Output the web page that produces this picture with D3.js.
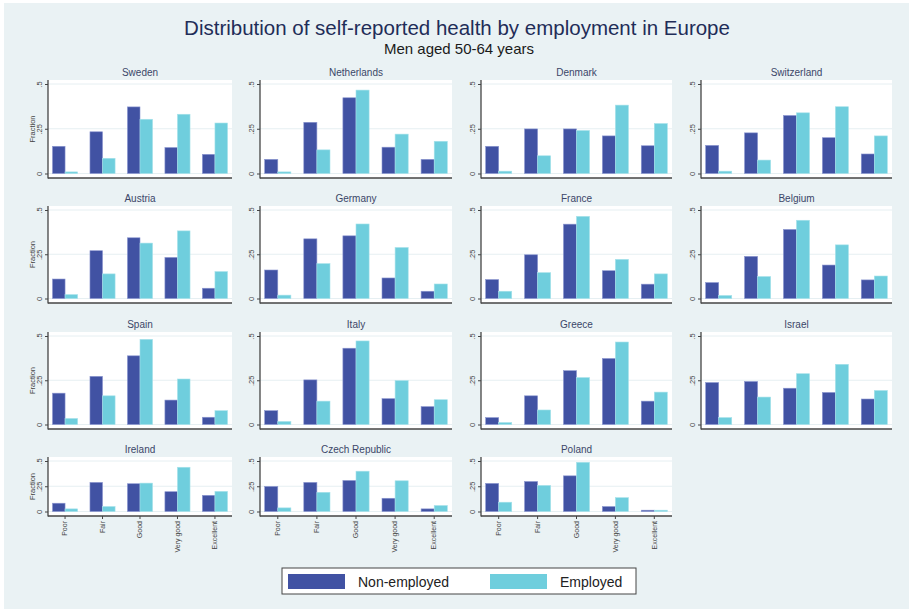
<!DOCTYPE html>
<html>
<head>
  <meta charset="utf-8">
  <title>Self-reported health by employment</title>
  <script src="https://d3js.org/d3.v7.min.js"></script>
  <style>
    html, body { margin: 0; padding: 0; background: #fff; }
    svg { display: block; font-family: "Liberation Sans", Arial, sans-serif; }
  </style>
</head>
<body>
  <svg width="909" height="610"></svg>
  <script>
    // Data (fraction of men in each health category)
    const countries = ["Sweden", "Netherlands", "Denmark", "Switzerland",
      "Austria", "Germany", "France", "Belgium",
      "Spain", "Italy", "Greece", "Israel",
      "Ireland", "Czech Republic", "Poland"];
    const categories = ["Poor", "Fair", "Good", "Very good", "Excellent"];
    const seriesNames = ["Non-employed", "Employed"];

    const nonEmployed = [
      [0.152, 0.233, 0.372, 0.145, 0.107], // Sweden
      [0.079, 0.286, 0.423, 0.147, 0.079], // Netherlands
      [0.152, 0.249, 0.249, 0.210, 0.155], // Denmark
      [0.157, 0.227, 0.324, 0.200, 0.109], // Switzerland
      [0.110, 0.270, 0.343, 0.232, 0.058], // Austria
      [0.161, 0.337, 0.354, 0.116, 0.041], // Germany
      [0.107, 0.247, 0.420, 0.157, 0.081], // France
      [0.090, 0.238, 0.390, 0.189, 0.105], // Belgium
      [0.177, 0.272, 0.388, 0.138, 0.041], // Spain
      [0.078, 0.252, 0.431, 0.146, 0.101], // Italy
      [0.039, 0.162, 0.304, 0.373, 0.132], // Greece
      [0.237, 0.243, 0.205, 0.181, 0.144], // Israel
      [0.082, 0.288, 0.275, 0.196, 0.160], // Ireland
      [0.248, 0.288, 0.307, 0.131, 0.026], // Czech Republic
      [0.278, 0.297, 0.353, 0.049, 0.013]  // Poland
    ];
    const employed = [
      [0.009, 0.085, 0.303, 0.331, 0.282],
      [0.009, 0.132, 0.466, 0.220, 0.180],
      [0.013, 0.099, 0.240, 0.382, 0.279],
      [0.013, 0.075, 0.339, 0.373, 0.210],
      [0.022, 0.139, 0.313, 0.382, 0.152],
      [0.019, 0.197, 0.421, 0.288, 0.082],
      [0.041, 0.146, 0.464, 0.221, 0.139],
      [0.017, 0.124, 0.442, 0.303, 0.127],
      [0.034, 0.162, 0.481, 0.257, 0.078],
      [0.017, 0.132, 0.472, 0.248, 0.140],
      [0.011, 0.082, 0.265, 0.466, 0.183],
      [0.039, 0.155, 0.287, 0.340, 0.192],
      [0.026, 0.049, 0.281, 0.438, 0.199],
      [0.036, 0.190, 0.399, 0.304, 0.059],
      [0.092, 0.258, 0.487, 0.137, 0.013]
    ];
    const yTicks = [0, 0.25, 0.5];
    const yTickLabels = ["0", ".25", ".5"];

    const colors = { fill: ["#4152a3", "#6fcedd"], edge: ["#8b96d0", "#a6e2ea"] };

    // Panel layout (Stata-style by() grid)
    const colLeft = [48, 260, 481, 701];
    const colRight = [232, 452, 672, 892];
    const rowTop = [80, 206, 332, 457];
    const rowBottom = [178, 303, 429, 516];
    const nCols = 4;

    const svg = d3.select("svg");

    svg.append("rect")
      .attr("x", 4).attr("y", 3)
      .attr("width", 905).attr("height", 606)
      .attr("fill", "#eaf2f4");

    svg.append("text")
      .attr("x", 457).attr("y", 35)
      .attr("text-anchor", "middle")
      .attr("font-size", 20.5)
      .attr("fill", "#1f2d58")
      .text("Distribution of self-reported health by employment in Europe");

    svg.append("text")
      .attr("x", 459).attr("y", 54)
      .attr("text-anchor", "middle")
      .attr("font-size", 15)
      .attr("fill", "#1a1a1a")
      .text("Men aged 50-64 years");

    countries.forEach((country, i) => {
      const r = Math.floor(i / nCols), c = i % nCols;
      const left = colLeft[c], right = colRight[c];
      const top = rowTop[r], bottom = rowBottom[r];
      const isLastRow = r === rowTop.length - 1;

      const x = d3.scaleBand().domain(categories).range([left, right])
        .paddingInner(0.33).paddingOuter(0.12);
      const xs = d3.scaleBand().domain(seriesNames).range([0, x.bandwidth()]);
      const y = d3.scaleLinear().domain([0, 0.5]).range([bottom - 4.5, top + 4]);

      const g = svg.append("g");

      g.append("rect")
        .attr("x", left).attr("y", top)
        .attr("width", right - left).attr("height", bottom - top)
        .attr("fill", "#fff");

      // grid lines
      g.selectAll(".grid").data(yTicks).enter().append("line")
        .attr("x1", left).attr("x2", right)
        .attr("y1", d => y(d)).attr("y2", d => y(d))
        .attr("stroke", "#e6eff2").attr("stroke-width", 1);

      g.append("text")
        .attr("x", (left + right) / 2).attr("y", top - 4)
        .attr("text-anchor", "middle")
        .attr("font-size", 10)
        .attr("fill", "#3b4668")
        .text(country);

      const vals = [nonEmployed[i], employed[i]];
      seriesNames.forEach((s, k) => {
        g.selectAll(".bar" + k).data(categories).enter().append("rect")
          .attr("x", d => x(d) + xs(s))
          .attr("y", (d, j) => y(vals[k][j]))
          .attr("width", xs.bandwidth())
          .attr("height", (d, j) => y(0) - y(vals[k][j]))
          .attr("fill", colors.fill[k])
          .attr("stroke", colors.edge[k])
          .attr("stroke-width", 0.6);
      });

      // y axis
      const yAxis = d3.axisLeft(y).tickValues(yTicks)
        .tickFormat((d, j) => yTickLabels[j]).tickSize(3).tickPadding(2);
      const ya = g.append("g").attr("transform", `translate(${left},0)`).call(yAxis);
      ya.select(".domain").remove();
      ya.selectAll(".tick line").attr("stroke", "#444");
      ya.selectAll(".tick text")
        .attr("font-size", 7.5).attr("fill", "#444")
        .attr("text-anchor", "middle")
        .attr("transform", d => `rotate(-90, -8, ${0})`)
        .attr("x", -8).attr("dy", "0.32em");
      g.append("line")
        .attr("x1", left).attr("x2", left)
        .attr("y1", top).attr("y2", bottom + 0.5)
        .attr("stroke", "#444").attr("stroke-width", 1.3);
      g.append("line")
        .attr("x1", left).attr("x2", right)
        .attr("y1", bottom).attr("y2", bottom)
        .attr("stroke", "#444").attr("stroke-width", 1.3);

      if (c === 0) {
        g.append("text")
          .attr("transform", `translate(32,${(top + bottom) / 2}) rotate(-90)`)
          .attr("text-anchor", "middle")
          .attr("dy", "0.35em")
          .attr("font-size", 7.5)
          .attr("fill", "#444")
          .text("Fraction");
      }

      if (isLastRow) {
        const xAxis = d3.axisBottom(x).tickSize(3).tickPadding(3);
        const xa = g.append("g").attr("transform", `translate(0,${bottom})`).call(xAxis);
        xa.select(".domain").remove();
        xa.selectAll(".tick line").attr("stroke", "#444");
        xa.selectAll(".tick text")
          .attr("font-size", 7).attr("fill", "#444")
          .attr("text-anchor", "end")
          .attr("transform", "rotate(-90)")
          .attr("x", -5).attr("y", 0).attr("dy", "0.32em");
      }
    });

    // legend
    const legend = svg.append("g");
    legend.append("rect")
      .attr("x", 282).attr("y", 568)
      .attr("width", 354).attr("height", 26)
      .attr("fill", "#fff").attr("stroke", "#444").attr("stroke-width", 1);
    const legendX = d3.scaleOrdinal().domain(seriesNames).range([288, 490]);
    seriesNames.forEach((s, k) => {
      legend.append("rect")
        .attr("x", legendX(s)).attr("y", 574)
        .attr("width", 57).attr("height", 15)
        .attr("fill", colors.fill[k]);
      legend.append("text")
        .attr("x", legendX(s) + 70).attr("y", 587)
        .attr("font-size", 14).attr("fill", "#222")
        .text(s);
    });
  </script>
</body>
</html>
